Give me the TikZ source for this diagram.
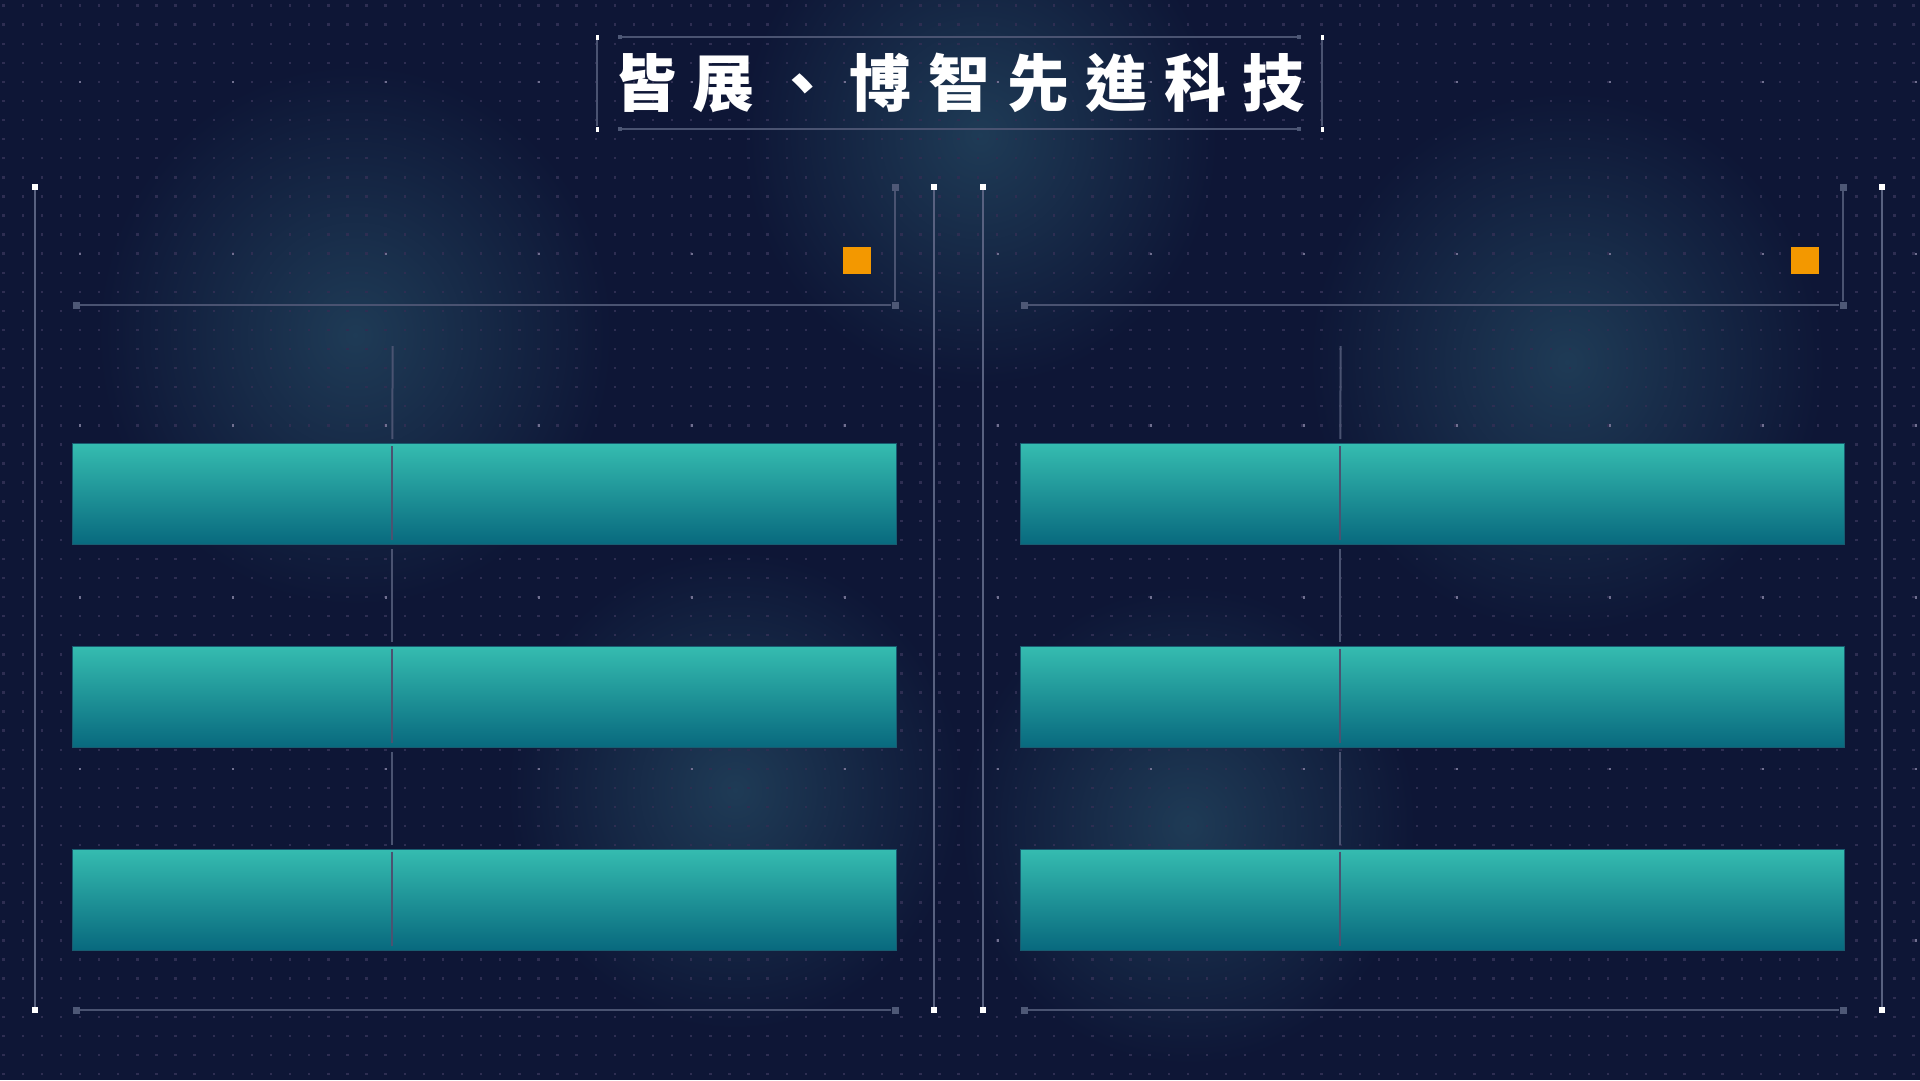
\documentclass[tikz,border=0pt]{standalone}
\usepackage{fontspec}
\newfontfamily\titlefont{Noto Sans CJK TC}
\usetikzlibrary{positioning, calc, fadings}

\definecolor{bgnavy}{RGB}{14,22,54}
\definecolor{glowblue}{RGB}{34,66,92}
\definecolor{griddot}{RGB}{46,46,82}
\definecolor{brightdot}{RGB}{112,112,144}
\definecolor{edgegray}{RGB}{88,97,128}
\definecolor{linegray}{RGB}{74,83,113}
\definecolor{markgray}{RGB}{78,88,118}
\definecolor{bartop}{RGB}{53,188,176}
\definecolor{barbottom}{RGB}{8,105,126}
\definecolor{baredge}{RGB}{24,92,112}
\definecolor{accent}{RGB}{243,152,0}

\tikzfading[name=glowfade, inner color=transparent!15, outer color=transparent!100]

\begin{document}
\begin{tikzpicture}[x=1pt, y=-1pt,
    titlechar/.style={text=white, font=\titlefont\bfseries\fontsize{62}{62}\selectfont, inner sep=0pt, anchor=base},
    titleline/.style={draw=linegray, line width=1.5pt},
    whitemark/.style={fill=white, inner sep=0pt, minimum width=6pt, minimum height=6pt},
    smallmark/.style={fill=white, inner sep=0pt, minimum width=3pt, minimum height=5pt},
    graymark/.style={fill=markgray, inner sep=0pt, minimum size=7pt},
    tinymark/.style={fill=markgray, inner sep=0pt, minimum size=4pt},
    outerline/.style={draw=edgegray, line width=2pt},
    frameline/.style={draw=linegray, line width=2pt},
    divider/.style={draw=linegray, line width=2pt},
    bar/.style={draw=baredge, line width=1pt, top color=bartop, bottom color=barbottom,
                minimum width=823.7pt, minimum height=101pt, inner sep=0pt},
    tag/.style={fill=accent, inner sep=0pt, minimum width=28pt, minimum height=27pt}]

    % background, glows and dot grid
    \fill[bgnavy] (0,0) rectangle (1920,1080);
    \useasboundingbox (0,0) rectangle (1920,1080);
    \foreach \gx/\gy/\gr in {980/135/240, 355/335/260, 1567/362/260, 735/790/230, 1188/825/230}
        \fill[glowblue, path fading=glowfade] (\gx,\gy) ellipse ({\gr} and {\gr*1.05});
    \foreach \i in {0,...,100}
        \foreach \j in {0,...,56}
            \fill[griddot] ({2.4+19.1*\i},{4.4+19.08*\j}) rectangle ++(2.4,2.4);
    \foreach \i in {0,...,12}
        \foreach \j in {0,...,5}
            \fill[brightdot] ({78.8+153*\i},{80.8+171.7*\j}) rectangle ++(2.6,2.6);

    % title frame
    \node[smallmark] (ttl) at (597,37) {};
    \node[smallmark] (ttr) at (1322,37) {};
    \node[smallmark] (tbl) at (597,129) {};
    \node[smallmark] (tbr) at (1322,129) {};
    \draw[titleline] (ttl) -- (tbl);
    \draw[titleline] (ttr) -- (tbr);
    \node[tinymark] (tha) at (620,37) {};
    \node[tinymark] (thb) at (1299,37) {};
    \node[tinymark] (tla) at (620,129) {};
    \node[tinymark] (tlb) at (1299,129) {};
    \draw[titleline] (tha) -- (thb);
    \draw[titleline] (tla) -- (tlb);
    \foreach \ch [count=\k from 0] in {皆,展,、,博,智,先,進,科,技}
        \node[titlechar] (t\k) at ({645+78.6*\k},106) {\ch};

    % two panels
    \foreach \p/\dx in {l/0, r/948} {
        \node[whitemark] (\p ol) at (35+\dx,187) {};
        \node[whitemark] (\p olb) at (35+\dx,1010) {};
        \node[whitemark] (\p or) at (934+\dx,187) {};
        \node[whitemark] (\p orb) at (934+\dx,1010) {};
        \draw[outerline] (\p ol) -- (\p olb);
        \draw[outerline] (\p or) -- (\p orb);

        \node[graymark] (\p ct) at (895+\dx,187) {};
        \node[graymark] (\p cc) at (895+\dx,305) {};
        \node[graymark] (\p cl) at (76+\dx,305) {};
        \draw[frameline] (\p ct) -- (\p cc) -- (\p cl);
        \node[graymark] (\p fl) at (76+\dx,1010) {};
        \node[graymark] (\p fr) at (895+\dx,1010) {};
        \draw[frameline] (\p fl) -- (\p fr);

        \node[tag] (\p tag) at (857+\dx,260.7) {};

        \node[bar] (\p b0) at (484.2+\dx,494.2) {};
        \node[bar] (\p b1) at (484.2+\dx,696.9) {};
        \node[bar] (\p b2) at (484.2+\dx,899.6) {};

        \coordinate (\p d) at (392.7+\dx,346);
        \draw[divider] (\p d) -- ($(\p b0.north west)+(320.4,-4)$);
        \draw[divider] ($(\p b0.south west)+(320.4,4)$) -- ($(\p b1.north west)+(320.4,-4)$);
        \draw[divider] ($(\p b1.south west)+(320.4,4)$) -- ($(\p b2.north west)+(320.4,-4)$);
        \foreach \j in {0,1,2}
            \draw[divider] ($(\p b\j.north west)+(320.4,3)$) -- ($(\p b\j.south west)+(320.4,-5)$);
    }
\end{tikzpicture}
\end{document}
